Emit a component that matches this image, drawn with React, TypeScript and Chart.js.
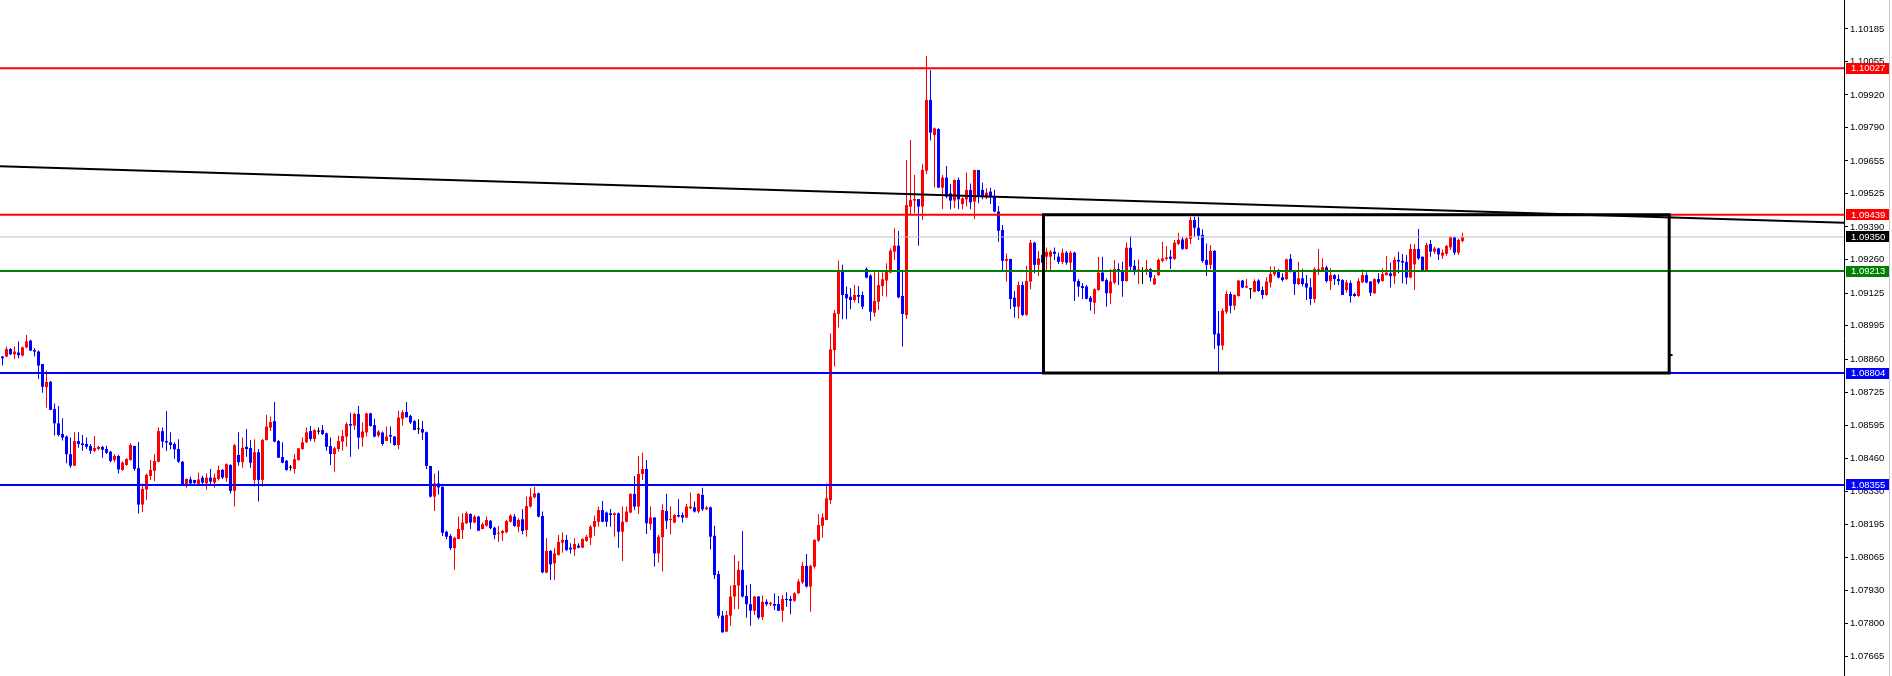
import React, { useEffect, useRef } from "react";
import { Chart, registerables } from "chart.js";

Chart.register(...registerables);

// ---- OHLC bars (one per slot, oldest first) ----
const opens = [
  1.08870,1.08870,1.08900,1.08879,1.08886,1.08874,1.08907,1.08934,1.08896,1.08890,
  1.08840,1.08747,1.08769,1.08660,1.08602,1.08559,1.08549,1.08478,1.08432,1.08531,
  1.08522,1.08519,1.08511,1.08492,1.08499,1.08507,1.08499,1.08488,1.08455,1.08471,
  1.08415,1.08435,1.08455,1.08511,1.08422,1.08276,1.08336,1.08391,1.08412,1.08448,
  1.08571,1.08531,1.08526,1.08519,1.08499,1.08448,1.08357,1.08377,1.08375,1.08359,
  1.08384,1.08361,1.08384,1.08364,1.08379,1.08415,1.08383,1.08435,1.08331,1.08475,
  1.08446,1.08508,1.08503,1.08375,1.08486,1.08375,1.08535,1.08585,1.08611,1.08531,
  1.08467,1.08452,1.08424,1.08419,1.08455,1.08499,1.08526,1.08571,1.08539,1.08569,
  1.08575,1.08562,1.08511,1.08479,1.08499,1.08529,1.08549,1.08599,1.08593,1.08640,
  1.08545,1.08566,1.08642,1.08595,1.08553,1.08565,1.08531,1.08555,1.08549,1.08515,
  1.08620,1.08648,1.08632,1.08611,1.08578,1.08579,1.08566,1.08431,1.08308,1.08361,
  1.08348,1.08167,1.08150,1.08101,1.08138,1.08174,1.08201,1.08238,1.08204,1.08228,
  1.08178,1.08191,1.08211,1.08183,1.08159,1.08161,1.08165,1.08207,1.08228,1.08187,
  1.08217,1.08174,1.08268,1.08305,1.08321,1.08230,1.08003,1.08090,1.08040,1.08074,
  1.08123,1.08134,1.08103,1.08096,1.08111,1.08103,1.08130,1.08143,1.08187,1.08207,
  1.08254,1.08244,1.08241,1.08234,1.08241,1.08167,1.08207,1.08244,1.08319,1.08268,
  1.08399,1.08419,1.08198,1.08224,1.08080,1.08145,1.08250,1.08214,1.08204,1.08234,
  1.08234,1.08224,1.08261,1.08265,1.08248,1.08315,1.08257,1.08265,1.08151,1.07997,
  1.07830,1.07766,1.07830,1.07907,1.07951,1.08014,1.07909,1.07876,1.07850,1.07907,
  1.07824,1.07886,1.07876,1.07877,1.07877,1.07850,1.07897,1.07897,1.07890,1.07920,
  1.07964,1.08030,1.07947,1.08027,1.08131,1.08191,1.08214,1.08294,1.08896,1.09041,
  1.09218,1.09121,1.09110,1.09097,1.09117,1.09117,1.09222,1.09195,1.09046,1.09090,
  1.09153,1.09175,1.09207,1.09291,1.09315,1.09113,1.09037,1.09472,1.09496,1.09502,
  1.09472,1.09616,1.09900,1.09759,1.09783,1.09548,1.09588,1.09525,1.09496,1.09579,
  1.09482,1.09501,1.09539,1.09492,1.09619,1.09539,1.09509,1.09532,1.09512,1.09452,
  1.09378,1.09254,1.09262,1.09106,1.09070,1.09157,1.09037,1.09171,1.09327,1.09238,
  1.09278,1.09271,1.09271,1.09291,1.09271,1.09250,1.09287,1.09247,1.09287,1.09173,
  1.09153,1.09151,1.09106,1.09086,1.09137,1.09207,1.09177,1.09124,1.09167,1.09221,
  1.09211,1.09173,1.09307,1.09234,1.09216,1.09211,1.09213,1.09221,1.09160,1.09197,
  1.09254,1.09262,1.09271,1.09262,1.09322,1.09340,1.09302,1.09342,1.09418,1.09387,
  1.09358,1.09258,1.09238,1.09294,1.08963,1.08914,1.09050,1.09121,1.09074,1.09113,
  1.09175,1.09147,1.09140,1.09130,1.09175,1.09137,1.09117,1.09167,1.09200,1.09217,
  1.09188,1.09181,1.09262,1.09211,1.09161,1.09184,1.09164,1.09148,1.09101,1.09215,
  1.09217,1.09228,1.09173,1.09197,1.09181,1.09177,1.09137,1.09165,1.09121,1.09113,
  1.09168,1.09197,1.09171,1.09124,1.09181,1.09173,1.09197,1.09204,1.09193,1.09258,
  1.09254,1.09250,1.09187,1.09240,1.09302,1.09271,1.09213,1.09322,1.09291,1.09304,
  1.09275,1.09282,1.09308,1.09349,1.09287,1.09334,
];

const highs = [
  1.08872,1.08910,1.08904,1.08910,1.08930,1.08910,1.08957,1.08937,1.08903,1.08894,
  1.08840,1.08813,1.08772,1.08682,1.08672,1.08622,1.08553,1.08545,1.08566,1.08566,
  1.08555,1.08545,1.08519,1.08551,1.08512,1.08512,1.08512,1.08492,1.08479,1.08475,
  1.08450,1.08462,1.08522,1.08512,1.08527,1.08361,1.08401,1.08455,1.08478,1.08585,
  1.08585,1.08652,1.08566,1.08526,1.08538,1.08451,1.08381,1.08388,1.08375,1.08405,
  1.08392,1.08401,1.08419,1.08401,1.08432,1.08419,1.08442,1.08438,1.08519,1.08566,
  1.08545,1.08579,1.08535,1.08538,1.08499,1.08539,1.08636,1.08629,1.08688,1.08535,
  1.08526,1.08455,1.08435,1.08479,1.08502,1.08545,1.08585,1.08591,1.08578,1.08585,
  1.08595,1.08565,1.08545,1.08508,1.08553,1.08575,1.08605,1.08645,1.08645,1.08672,
  1.08605,1.08645,1.08645,1.08620,1.08575,1.08569,1.08589,1.08589,1.08551,1.08653,
  1.08656,1.08688,1.08636,1.08615,1.08618,1.08611,1.08569,1.08431,1.08401,1.08412,
  1.08348,1.08171,1.08158,1.08147,1.08228,1.08241,1.08248,1.08241,1.08234,1.08230,
  1.08204,1.08228,1.08214,1.08187,1.08190,1.08174,1.08214,1.08237,1.08238,1.08221,
  1.08257,1.08308,1.08341,1.08348,1.08324,1.08248,1.08141,1.08094,1.08101,1.08154,
  1.08165,1.08154,1.08121,1.08141,1.08121,1.08141,1.08154,1.08194,1.08232,1.08268,
  1.08290,1.08248,1.08258,1.08244,1.08244,1.08268,1.08268,1.08321,1.08391,1.08471,
  1.08484,1.08455,1.08268,1.08225,1.08154,1.08277,1.08319,1.08268,1.08237,1.08298,
  1.08244,1.08278,1.08324,1.08288,1.08321,1.08344,1.08270,1.08268,1.08191,1.08009,
  1.07849,1.07849,1.07951,1.08074,1.08050,1.08170,1.07953,1.07957,1.07909,1.07909,
  1.07911,1.07896,1.07886,1.07920,1.07909,1.07913,1.07924,1.07909,1.07924,1.07977,
  1.08047,1.08078,1.08034,1.08137,1.08237,1.08241,1.08361,1.08963,1.09057,1.09255,
  1.09238,1.09151,1.09144,1.09157,1.09153,1.09131,1.09227,1.09200,1.09208,1.09208,
  1.09208,1.09244,1.09304,1.09385,1.09374,1.09218,1.09659,1.09739,1.09599,1.09502,
  1.09642,1.10076,1.10020,1.09789,1.09786,1.09599,1.09635,1.09563,1.09581,1.09589,
  1.09509,1.09609,1.09565,1.09619,1.09619,1.09568,1.09545,1.09548,1.09539,1.09474,
  1.09398,1.09284,1.09262,1.09133,1.09171,1.09171,1.09234,1.09338,1.09331,1.09294,
  1.09308,1.09308,1.09298,1.09308,1.09287,1.09304,1.09294,1.09294,1.09291,1.09180,
  1.09164,1.09157,1.09113,1.09144,1.09271,1.09271,1.09184,1.09221,1.09258,1.09244,
  1.09251,1.09328,1.09354,1.09258,1.09260,1.09228,1.09258,1.09224,1.09197,1.09264,
  1.09331,1.09314,1.09298,1.09338,1.09367,1.09351,1.09349,1.09431,1.09431,1.09431,
  1.09381,1.09324,1.09318,1.09298,1.09053,1.09064,1.09134,1.09130,1.09120,1.09177,
  1.09177,1.09181,1.09143,1.09180,1.09180,1.09151,1.09188,1.09231,1.09231,1.09221,
  1.09204,1.09264,1.09282,1.09213,1.09251,1.09221,1.09197,1.09184,1.09228,1.09302,
  1.09264,1.09234,1.09224,1.09200,1.09200,1.09180,1.09177,1.09175,1.09126,1.09184,
  1.09220,1.09207,1.09173,1.09184,1.09204,1.09224,1.09274,1.09247,1.09271,1.09291,
  1.09282,1.09278,1.09322,1.09322,1.09382,1.09271,1.09327,1.09338,1.09311,1.09307,
  1.09300,1.09318,1.09354,1.09351,1.09344,1.09367,
];

const lows = [
  1.08834,1.08867,1.08876,1.08859,1.08863,1.08870,1.08903,1.08892,1.08870,1.08780,
  1.08725,1.08665,1.08656,1.08553,1.08549,1.08533,1.08442,1.08424,1.08432,1.08504,
  1.08492,1.08499,1.08479,1.08486,1.08494,1.08464,1.08479,1.08446,1.08446,1.08401,
  1.08412,1.08432,1.08452,1.08412,1.08240,1.08245,1.08294,1.08375,1.08371,1.08446,
  1.08504,1.08491,1.08498,1.08459,1.08444,1.08357,1.08344,1.08357,1.08357,1.08355,
  1.08357,1.08335,1.08360,1.08344,1.08373,1.08379,1.08368,1.08320,1.08268,1.08432,
  1.08424,1.08468,1.08424,1.08348,1.08288,1.08348,1.08533,1.08571,1.08526,1.08464,
  1.08442,1.08412,1.08412,1.08401,1.08452,1.08496,1.08523,1.08531,1.08526,1.08558,
  1.08555,1.08492,1.08435,1.08408,1.08488,1.08492,1.08508,1.08468,1.08575,1.08499,
  1.08508,1.08549,1.08589,1.08546,1.08546,1.08512,1.08531,1.08522,1.08512,1.08498,
  1.08593,1.08626,1.08599,1.08575,1.08559,1.08535,1.08419,1.08304,1.08250,1.08315,
  1.08150,1.08137,1.08094,1.08014,1.08137,1.08138,1.08198,1.08178,1.08201,1.08170,
  1.08177,1.08187,1.08177,1.08137,1.08126,1.08130,1.08161,1.08204,1.08187,1.08165,
  1.08157,1.08147,1.08264,1.08301,1.08224,1.08000,1.08000,1.07973,1.07973,1.08071,
  1.08083,1.08090,1.08080,1.08071,1.08101,1.08101,1.08127,1.08114,1.08151,1.08187,
  1.08205,1.08187,1.08187,1.08147,1.08103,1.08050,1.08205,1.08241,1.08254,1.08238,
  1.08375,1.08158,1.08174,1.08027,1.08043,1.08007,1.08178,1.08157,1.08201,1.08224,
  1.08204,1.08221,1.08257,1.08244,1.08241,1.08250,1.08254,1.08096,1.07977,1.07820,
  1.07763,1.07766,1.07790,1.07856,1.07857,1.07903,1.07822,1.07790,1.07833,1.07816,
  1.07813,1.07869,1.07869,1.07853,1.07849,1.07806,1.07866,1.07836,1.07886,1.07917,
  1.07957,1.07943,1.07846,1.08018,1.08127,1.08143,1.08214,1.08278,1.08830,1.08987,
  1.09020,1.09020,1.09060,1.09088,1.09084,1.09061,1.09184,1.09014,1.09030,1.09057,
  1.09113,1.09110,1.09204,1.09258,1.09104,1.08910,1.09021,1.09438,1.09445,1.09315,
  1.09418,1.09603,1.09737,1.09549,1.09548,1.09462,1.09505,1.09461,1.09465,1.09462,
  1.09461,1.09472,1.09461,1.09422,1.09485,1.09501,1.09501,1.09482,1.09449,1.09331,
  1.09213,1.09171,1.09061,1.09026,1.09023,1.09033,1.09034,1.09140,1.09204,1.09193,
  1.09211,1.09213,1.09213,1.09258,1.09241,1.09241,1.09238,1.09217,1.09093,1.09110,
  1.09101,1.09100,1.09054,1.09041,1.09134,1.09171,1.09070,1.09081,1.09160,1.09157,
  1.09110,1.09171,1.09213,1.09197,1.09160,1.09161,1.09197,1.09171,1.09157,1.09193,
  1.09248,1.09255,1.09221,1.09258,1.09318,1.09298,1.09300,1.09322,1.09351,1.09338,
  1.09247,1.09193,1.09220,1.08900,1.08805,1.08896,1.09041,1.09044,1.09057,1.09110,
  1.09144,1.09144,1.09102,1.09128,1.09130,1.09101,1.09114,1.09147,1.09193,1.09184,
  1.09171,1.09177,1.09207,1.09117,1.09157,1.09151,1.09097,1.09077,1.09086,1.09197,
  1.09211,1.09167,1.09137,1.09157,1.09157,1.09117,1.09126,1.09086,1.09110,1.09110,
  1.09164,1.09164,1.09113,1.09121,1.09161,1.09171,1.09195,1.09147,1.09161,1.09204,
  1.09164,1.09160,1.09184,1.09137,1.09258,1.09211,1.09211,1.09271,1.09282,1.09258,
  1.09262,1.09275,1.09298,1.09278,1.09278,1.09328,
];

const closes = [
  1.08863,1.08900,1.08879,1.08890,1.08876,1.08907,1.08931,1.08894,1.08890,1.08834,
  1.08749,1.08768,1.08656,1.08602,1.08555,1.08545,1.08478,1.08432,1.08531,1.08519,
  1.08515,1.08508,1.08492,1.08503,1.08508,1.08496,1.08484,1.08451,1.08471,1.08417,
  1.08444,1.08459,1.08515,1.08419,1.08276,1.08339,1.08395,1.08415,1.08451,1.08571,
  1.08529,1.08525,1.08515,1.08498,1.08448,1.08357,1.08379,1.08361,1.08363,1.08377,
  1.08364,1.08384,1.08368,1.08384,1.08415,1.08385,1.08438,1.08331,1.08514,1.08446,
  1.08504,1.08499,1.08444,1.08486,1.08375,1.08535,1.08589,1.08607,1.08529,1.08464,
  1.08444,1.08415,1.08424,1.08458,1.08502,1.08526,1.08566,1.08539,1.08575,1.08569,
  1.08559,1.08508,1.08479,1.08502,1.08531,1.08551,1.08599,1.08593,1.08640,1.08545,
  1.08569,1.08642,1.08591,1.08549,1.08569,1.08519,1.08549,1.08549,1.08515,1.08625,
  1.08646,1.08626,1.08606,1.08575,1.08578,1.08565,1.08431,1.08308,1.08361,1.08345,
  1.08163,1.08147,1.08101,1.08143,1.08178,1.08204,1.08241,1.08204,1.08228,1.08171,
  1.08197,1.08214,1.08181,1.08154,1.08163,1.08170,1.08210,1.08232,1.08190,1.08214,
  1.08170,1.08270,1.08308,1.08321,1.08228,1.08004,1.08090,1.08036,1.08080,1.08126,
  1.08134,1.08094,1.08096,1.08118,1.08103,1.08138,1.08147,1.08187,1.08210,1.08254,
  1.08207,1.08207,1.08234,1.08241,1.08167,1.08207,1.08248,1.08319,1.08268,1.08399,
  1.08419,1.08201,1.08224,1.08080,1.08147,1.08254,1.08211,1.08218,1.08234,1.08228,
  1.08224,1.08268,1.08268,1.08248,1.08319,1.08257,1.08264,1.08147,1.07993,1.07830,
  1.07763,1.07833,1.07907,1.07953,1.08014,1.07907,1.07876,1.07850,1.07907,1.07822,
  1.07886,1.07876,1.07882,1.07870,1.07850,1.07897,1.07893,1.07890,1.07920,1.07967,
  1.08030,1.07947,1.08030,1.08134,1.08194,1.08225,1.08301,1.08899,1.09044,1.09218,
  1.09117,1.09104,1.09097,1.09117,1.09110,1.09070,1.09187,1.09050,1.09093,1.09157,
  1.09180,1.09211,1.09295,1.09315,1.09108,1.09041,1.09478,1.09498,1.09502,1.09472,
  1.09619,1.09900,1.09769,1.09786,1.09548,1.09588,1.09512,1.09496,1.09579,1.09501,
  1.09505,1.09539,1.09489,1.09619,1.09512,1.09512,1.09528,1.09512,1.09452,1.09375,
  1.09254,1.09262,1.09101,1.09070,1.09157,1.09037,1.09173,1.09327,1.09238,1.09264,
  1.09247,1.09290,1.09291,1.09282,1.09250,1.09287,1.09247,1.09287,1.09171,1.09151,
  1.09145,1.09102,1.09090,1.09140,1.09207,1.09173,1.09124,1.09171,1.09221,1.09211,
  1.09173,1.09307,1.09231,1.09213,1.09220,1.09211,1.09221,1.09187,1.09184,1.09258,
  1.09264,1.09268,1.09262,1.09327,1.09338,1.09302,1.09344,1.09418,1.09387,1.09355,
  1.09254,1.09238,1.09294,1.08959,1.08914,1.09054,1.09121,1.09074,1.09117,1.09175,
  1.09147,1.09153,1.09140,1.09173,1.09133,1.09117,1.09171,1.09201,1.09217,1.09187,
  1.09177,1.09260,1.09211,1.09161,1.09184,1.09161,1.09147,1.09101,1.09221,1.09221,
  1.09228,1.09173,1.09197,1.09181,1.09173,1.09117,1.09168,1.09113,1.09113,1.09173,
  1.09197,1.09167,1.09126,1.09181,1.09168,1.09201,1.09207,1.09193,1.09258,1.09251,
  1.09247,1.09187,1.09302,1.09302,1.09264,1.09213,1.09318,1.09291,1.09304,1.09280,
  1.09287,1.09314,1.09349,1.09287,1.09338,1.09349,
];

// ---- axis / annotation values ----
const slotCount = 461; // bar slots on the time axis (incl. empty space at right)
const priceMin = 1.07588;
const priceMax = 1.10301;
const tickValues = [
  1.10185, 1.10055, 1.0992, 1.0979, 1.09655, 1.09525, 1.0939, 1.0926, 1.09125, 1.08995,
  1.0886, 1.08725, 1.08595, 1.0846, 1.0833, 1.08195, 1.08065, 1.0793, 1.078, 1.07665,
];
const levelValues = [1.10027, 1.09439, 1.0935, 1.09213, 1.08804, 1.08355];
const levelLineColors = ["#ff0000", "#ff0000", "#c0c0c0", "#008000", "#0000ff", "#0000ff"];
const levelLabelColors = ["#ff0000", "#ff0000", "#000000", "#008000", "#0000ff", "#0000ff"];
const levelLineWidths = [2, 2, 1, 2, 2, 2];
const trendValues = [1.09634, 1.09407];
const boxSlots = [260.25, 416.67];
const boxPrices = [1.09439, 1.08804];
const boxMarkPrice = 1.08876;

const X_MIN = -0.625;
const X_MAX = slotCount - 0.625;

const UP = "#ff0000";
const DOWN = "#0000ff";
const FLAT = "#000000";
const AXIS_FONT = '"Liberation Sans", Arial, sans-serif';

const labelPlugin = {
  id: "levelLabels",
  afterDraw(chart: any) {
    const { ctx, chartArea } = chart;
    const y = chart.scales.y;
    ctx.save();
    ctx.font = `9.5px ${AXIS_FONT}`;
    ctx.textBaseline = "middle";
    ctx.textAlign = "left";
    levelValues.forEach((v, k) => {
      const py = y.getPixelForValue(v);
      const left = chartArea.right + 2;
      const h = 11;
      ctx.fillStyle = levelLabelColors[k];
      ctx.fillRect(left, Math.round(py - h / 2), 43, h);
      ctx.fillStyle = "#ffffff";
      ctx.fillText(v.toFixed(5), left + 5, Math.round(py) + 0.5);
    });
    ctx.fillStyle = "#c8c8c8";
    ctx.fillRect(chart.width - 3, 0, 1, chart.height);
    ctx.restore();
  },
};

export default function App() {
  const ref = useRef<HTMLCanvasElement | null>(null);

  useEffect(() => {
    document.body.style.margin = "0";
    const canvas = ref.current;
    if (!canvas) return;

    const colors = opens.map((o, i) =>
      closes[i] > o ? UP : closes[i] < o ? DOWN : FLAT
    );
    const wickData = opens.map((_, i) => ({ x: i, y: [lows[i], highs[i]] }));
    const bodyData = opens.map((o, i) => ({
      x: i,
      y: [Math.min(o, closes[i]), Math.max(o, closes[i])],
    }));

    const levelSets = levelValues.map((v, k) => ({
      type: "line",
      data: [
        { x: X_MIN, y: v },
        { x: X_MAX, y: v },
      ],
      borderColor: levelLineColors[k],
      borderWidth: levelLineWidths[k],
      pointRadius: 0,
      fill: false,
      order: 3,
    }));

    const chart = new Chart(canvas, {
      type: "bar",
      data: {
        datasets: [
          {
            type: "bar",
            data: wickData,
            backgroundColor: colors,
            barThickness: 1,
            grouped: false,
            inflateAmount: 0,
            borderWidth: 0,
            order: 6,
          } as any,
          {
            type: "bar",
            data: bodyData,
            backgroundColor: colors,
            barThickness: 3,
            minBarLength: 1,
            grouped: false,
            inflateAmount: 0,
            borderWidth: 0,
            order: 5,
          } as any,
          ...(levelSets as any[]),
          {
            type: "line",
            data: [
              { x: X_MIN, y: trendValues[0] },
              { x: X_MAX, y: trendValues[1] },
            ],
            borderColor: "#000000",
            borderWidth: 2,
            pointRadius: 0,
            fill: false,
            order: 2,
          } as any,
          {
            type: "line",
            data: [
              { x: boxSlots[0], y: boxPrices[0] },
              { x: boxSlots[1], y: boxPrices[0] },
              { x: boxSlots[1], y: boxPrices[1] },
              { x: boxSlots[0], y: boxPrices[1] },
              { x: boxSlots[0], y: boxPrices[0] },
            ],
            borderColor: "#000000",
            borderWidth: 3,
            borderJoinStyle: "miter",
            borderCapStyle: "square",
            pointRadius: 0,
            fill: false,
            order: 1,
          } as any,
          {
            type: "line",
            data: [
              { x: boxSlots[1], y: boxMarkPrice },
              { x: boxSlots[1] + 0.85, y: boxMarkPrice },
            ],
            borderColor: "#000000",
            borderWidth: 2,
            pointRadius: 0,
            fill: false,
            order: 1,
          } as any,
        ],
      },
      options: {
        responsive: false,
        animation: false,
        devicePixelRatio: 1,
        layout: { padding: 0 },
        plugins: {
          legend: { display: false },
          tooltip: { enabled: false },
        },
        scales: {
          x: {
            type: "linear",
            min: X_MIN,
            max: X_MAX,
            display: false,
            offset: false,
          },
          y: {
            type: "linear",
            position: "right",
            min: priceMin,
            max: priceMax,
            afterBuildTicks: (s: any) => {
              s.ticks = tickValues.map((v) => ({ value: v }));
            },
            afterFit: (s: any) => {
              s.width = 48;
              s.paddingTop = 0;
              s.paddingBottom = 0;
            },
            grid: {
              drawOnChartArea: false,
              drawTicks: true,
              tickLength: 4,
              color: "#000000",
              tickColor: "#000000",
            },
            border: { display: true, color: "#000000", width: 1 },
            ticks: {
              color: "#000000",
              padding: 2,
              autoSkip: false,
              maxRotation: 0,
              font: { family: AXIS_FONT, size: 9.5 },
              callback: (v: any) => Number(v).toFixed(5),
            },
          },
        },
      } as any,
      plugins: [labelPlugin],
    });

    return () => chart.destroy();
  }, []);

  return (
    <div style={{ width: 1892, height: 676 }}>
      <canvas ref={ref} width={1892} height={676} style={{ display: "block" }} />
    </div>
  );
}
